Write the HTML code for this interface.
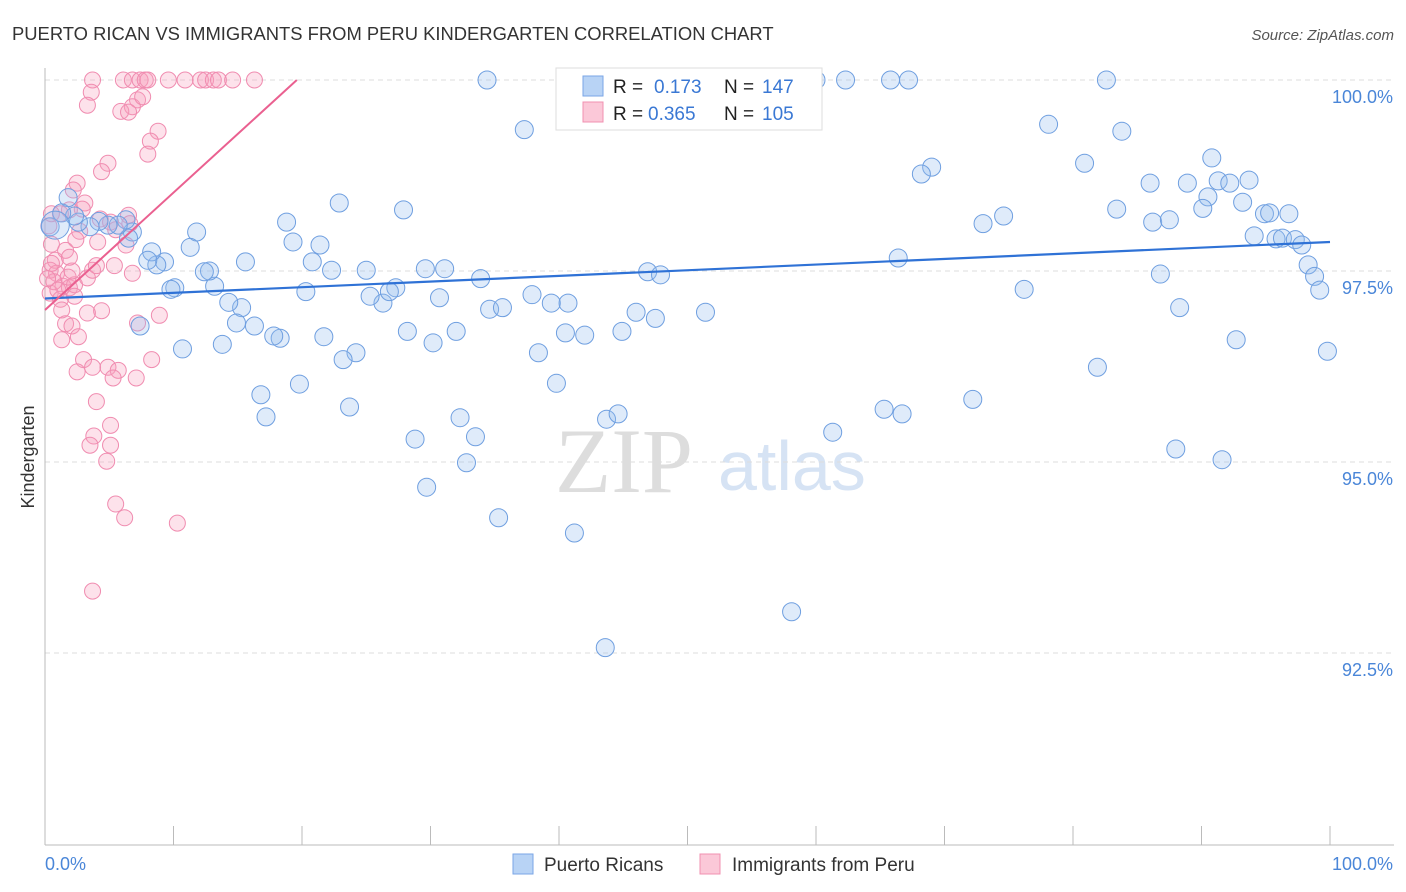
<!DOCTYPE html>
<html><head><meta charset="utf-8">
<style>
body{margin:0;background:#fff;font-family:"Liberation Sans",sans-serif;}
#wrap{position:relative;width:1406px;height:892px;overflow:hidden;}
</style></head>
<body>
<div id="wrap">
<svg id="svg" width="1406" height="892" xmlns="http://www.w3.org/2000/svg" style="position:absolute;left:0;top:0">
<text x="12" y="40" font-size="18.4" fill="#333">PUERTO RICAN VS IMMIGRANTS FROM PERU KINDERGARTEN CORRELATION CHART</text>
<text x="1394" y="40" font-size="15" fill="#555" font-style="italic" text-anchor="end">Source: ZipAtlas.com</text>
<text x="34" y="457" font-size="18" fill="#333" text-anchor="middle" transform="rotate(-90 34 457)">Kindergarten</text>
<g>
<text x="555" y="492" font-size="92" font-family="Liberation Serif,serif" fill="#ddd">ZIP</text>
<text x="718" y="490" font-size="70" fill="#d6e3f4">atlas</text>
</g>
<g id="grid"></g>
<g id="axes"></g>
<g id="pts"></g>
<g id="trend"></g>
<g>
<rect x="556" y="68" width="266" height="62" fill="#fff" stroke="#ddd"/>
<rect x="583" y="76" width="20" height="20" fill="#b8d3f5" stroke="#7aa6e6"/>
<rect x="583" y="102" width="20" height="20" fill="#fbc8d8" stroke="#f090b0"/>
<text x="613" y="93" font-size="19" fill="#222">R = </text><text x="654" y="93" font-size="19" fill="#3a78d4">0.173</text>
<text x="724" y="93" font-size="19" fill="#222">N = </text><text x="762" y="93" font-size="19" fill="#3a78d4">147</text>
<text x="613" y="120" font-size="19" fill="#222">R = </text><text x="648" y="120" font-size="19" fill="#3a78d4">0.365</text>
<text x="724" y="120" font-size="19" fill="#222">N = </text><text x="762" y="120" font-size="19" fill="#3a78d4">105</text>
</g>
<g>
<rect x="513" y="854" width="20" height="20" fill="#b8d3f5" stroke="#7aa6e6"/>
<text x="544" y="871" font-size="19" fill="#333">Puerto Ricans</text>
<rect x="700" y="854" width="20" height="20" fill="#fbc8d8" stroke="#f090b0"/>
<text x="732" y="871" font-size="19" fill="#333">Immigrants from Peru</text>
</g>
</svg>
</div>
<script>
const blueX=[34.4,47.9,53.7,60.0,62.3,65.8,67.2,82.6,37.3,78.1,83.8,80.9,90.8,69.0,68.2,86.0,88.9,91.3,92.2,93.7,90.5,93.2,90.1,83.4,74.6,73.0,86.2,87.5,94.9,95.3,96.8,94.1,95.8,96.3,97.3,97.8,98.3,98.8,99.2,99.8,92.7,88.3,86.8,81.9,76.2,88.0,91.6,72.2,65.3,66.7,61.3,58.1,51.4,47.5,46.0,44.9,46.9,47.9,42.0,40.5,40.7,39.4,37.9,38.4,39.8,34.6,35.6,33.9,31.1,30.7,29.6,28.2,30.2,32.0,28.8,32.3,33.5,32.8,29.7,35.3,41.2,43.6,43.7,44.6,27.3,26.3,25.3,26.8,25.0,24.2,23.7,23.2,22.3,21.7,20.3,19.8,19.3,20.8,21.4,18.8,18.3,17.8,17.2,16.8,16.3,15.6,15.3,14.9,14.3,13.8,13.2,12.8,12.4,11.8,11.3,10.7,10.1,9.8,9.3,8.7,8.3,8.0,7.4,6.8,6.5,6.3,5.7,4.9,4.2,3.5,2.6,2.3,1.8,1.3,0.4,22.9,27.9,66.4,0.8];
const blueY=[100,100,100,100,100,100,100,100,99.35,99.42,99.33,98.91,98.98,98.86,98.77,98.65,98.65,98.68,98.65,98.69,98.47,98.40,98.32,98.31,98.22,98.12,98.14,98.17,98.25,98.26,98.25,97.96,97.92,97.93,97.91,97.84,97.58,97.43,97.25,96.45,96.60,97.02,97.46,96.24,97.26,95.17,95.03,95.82,95.69,95.63,95.39,93.04,96.96,96.88,96.96,96.71,97.49,97.45,96.66,96.69,97.08,97.08,97.19,96.43,96.03,97.00,97.02,97.40,97.53,97.15,97.53,96.71,96.56,96.71,95.30,95.58,95.33,94.99,94.67,94.27,94.07,92.57,95.56,95.63,97.28,97.08,97.17,97.23,97.51,96.43,95.72,96.34,97.51,96.64,97.23,96.02,97.88,97.62,97.84,98.14,96.62,96.65,95.59,95.88,96.78,97.62,97.02,96.82,97.09,96.54,97.30,97.50,97.49,98.01,97.81,96.48,97.28,97.26,97.62,97.58,97.75,97.64,96.78,98.01,97.93,98.17,98.10,98.10,98.15,98.08,98.14,98.22,98.46,98.26,98.08,98.39,98.30,97.67,98.10];
const pinkX=[3.7,6.1,6.8,7.4,7.8,8.0,9.6,10.9,12.1,12.5,13.1,13.5,14.6,16.3,3.6,3.3,7.2,6.8,7.6,5.9,6.5,8.8,8.2,8.0,4.9,4.4,2.5,2.2,3.1,2.9,6.5,6.6,4.3,5.1,5.5,6.3,4.1,2.7,2.4,1.9,1.2,0.5,0.8,0.4,0.9,1.4,1.9,2.3,1.8,2.1,3.3,3.7,4.0,5.4,6.8,0.4,1.2,2.3,1.3,4.4,3.3,8.9,7.2,1.6,2.1,2.6,1.3,3.0,2.5,3.7,4.9,5.7,5.3,7.1,8.3,4.0,5.1,3.8,3.5,5.1,4.8,5.5,6.2,10.3,3.7,0.5,0.7,1.0,0.2,0.3,0.5,1.6,1.9];
const pinkY=[100,100,100,100,100,100,100,100,100,100,100,100,100,100,99.84,99.67,99.74,99.65,99.78,99.59,99.58,99.33,99.20,99.03,98.91,98.80,98.65,98.56,98.39,98.31,98.23,98.12,98.18,98.14,98.04,97.84,97.88,98.02,97.91,98.30,98.25,97.85,97.64,97.51,97.47,97.30,97.28,97.32,97.42,97.50,97.41,97.51,97.57,97.57,97.47,97.21,97.13,97.17,96.99,96.98,96.95,96.92,96.82,96.81,96.78,96.64,96.60,96.34,96.18,96.24,96.24,96.20,96.10,96.10,96.34,95.79,95.48,95.34,95.22,95.22,95.01,94.45,94.27,94.20,93.31,97.60,97.36,97.25,97.40,98.09,98.25,97.77,97.68];
const blueTrend=[97.14,97.88];
const pinkTrend=[96.99,0.1536];
const yTicks=[100,97.5,95,92.5];
const yTickLabels=["100.0%","97.5%","95.0%","92.5%"];
const xLabels=["0.0%","100.0%"];

const NS="http://www.w3.org/2000/svg";
const X0=45,X1=1330,YTOP=80,PXPER=76.4;
const sx=v=>X0+(X1-X0)*v/100;
const sy=v=>YTOP+(100-v)*PXPER;
function mk(tag,attrs,parent){const e=document.createElementNS(NS,tag);for(const k in attrs)e.setAttribute(k,attrs[k]);document.getElementById(parent).appendChild(e);return e;}

yTicks.forEach((t,i)=>{
 const l=mk('line',{x1:X0,x2:1394,y1:sy(t),y2:sy(t),stroke:'#ddd','stroke-dasharray':'5,4'},'grid');
 
 
 const tx=mk('text',{x:1393,y:sy(t)+23,'font-size':18,fill:'#4a86d8','text-anchor':'end'},'grid');
 tx.textContent=yTickLabels[i];
 
 
});
const ax=mk('line',{x1:X0,x2:X0,y1:68,y2:845,stroke:'#bbb'},'axes');


const bx=mk('line',{x1:X0,x2:1394,y1:845,y2:845,stroke:'#bbb'},'axes');


for(let i=0;i<=10;i++){
 const t=mk('line',{x1:sx(i*10),x2:sx(i*10),y1:826,y2:845,stroke:'#bbb'},'axes');
 
 
}
const xl0=mk('text',{x:45,y:870,'font-size':18,fill:'#4a86d8'},'axes');xl0.textContent=xLabels[0];


const xl1=mk('text',{x:1393,y:870,'font-size':18,fill:'#4a86d8','text-anchor':'end'},'axes');xl1.textContent=xLabels[1];



pinkX.forEach((v,i)=>{
 const c=mk('circle',{cx:sx(v),cy:sy(pinkY[i]),r:8,fill:'rgba(247,160,190,0.3)',stroke:'#f08cb0','stroke-width':1},'pts');
 
 
});
blueX.forEach((v,i)=>{
 const big=i===blueX.length-1;
 const c=mk('circle',{cx:sx(v),cy:sy(blueY[i]),r:big?14:9,fill:'rgba(150,190,240,0.3)',stroke:'#6f9fe0','stroke-width':1},'pts');
 
 
});
const tb=mk('line',{x1:sx(0),y1:sy(blueTrend[0]),x2:sx(100),y2:sy(blueTrend[1]),stroke:'#2f72d6','stroke-width':2.2},'trend');


const xe=(100-pinkTrend[0])/pinkTrend[1];
const tp=mk('line',{x1:sx(0),y1:sy(pinkTrend[0]),x2:sx(xe),y2:sy(100),stroke:'#ea6090','stroke-width':2},'trend');


</script>
</body></html>
